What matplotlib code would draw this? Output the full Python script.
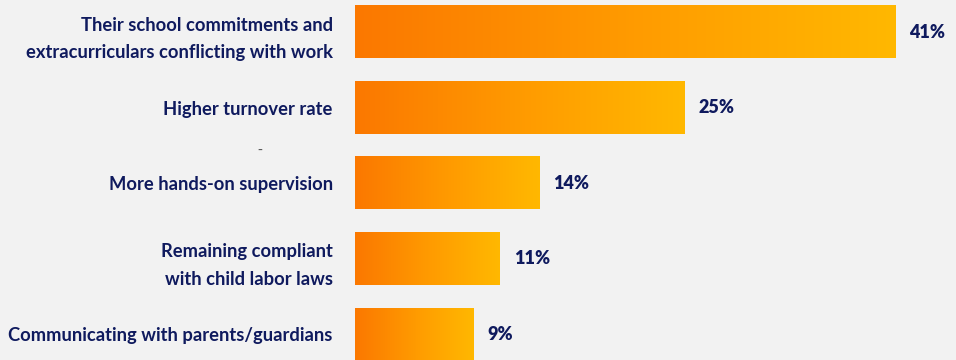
import numpy as np
import matplotlib.pyplot as plt
from matplotlib.colors import LinearSegmentedColormap

# Challenges of employing teens, share of respondents
categories = [
    "Their school commitments and\nextracurriculars conflicting with work",
    "Higher turnover rate",
    "More hands-on supervision",
    "Remaining compliant\nwith child labor laws",
    "Communicating with parents/guardians",
]
values = [41, 25, 14, 11, 9]

navy = "#0f1a5e"
bg = "#f2f2f2"
grad = LinearSegmentedColormap.from_list("bar_grad", ["#fb7800", "#ff9a00", "#ffb800"])

fig = plt.figure(figsize=(9.56, 3.6), dpi=100, facecolor=bg)
ax = fig.add_axes([355 / 956, 0, 1 - 355 / 956, 1])
ax.set_facecolor(bg)

y = np.arange(len(categories))
height = 0.69

# each bar gets its own left-to-right orange gradient
ramp = np.linspace(0, 1, 256).reshape(1, -1)
for yi, v in zip(y, values):
    ax.imshow(ramp, cmap=grad, aspect="auto", interpolation="bicubic",
              extent=[0, v, yi + height / 2, yi - height / 2], zorder=2)
    ax.annotate(f"{v}%", xy=(v, yi), xytext=(10, 0), textcoords="offset points",
                va="center", ha="left", fontsize=13, fontweight="heavy",
                color=navy, family="Lato")
ax.set_xlim(0, 45.6)
ax.set_ylim(4.34, -0.43)

ax.set_yticks(y)
ax.set_yticklabels(categories, fontsize=13.2, fontweight="bold", color=navy,
                   family="Lato", linespacing=1.75)
ax.tick_params(axis="y", length=0, pad=16)
ax.set_xticks([])
for s in ax.spines.values():
    s.set_visible(False)

fig.text(260 / 956, 1 - 151 / 360, "-", color="#555555", fontsize=10,
         ha="center", va="center")

fig.savefig("out.png", dpi=100, facecolor=bg)
